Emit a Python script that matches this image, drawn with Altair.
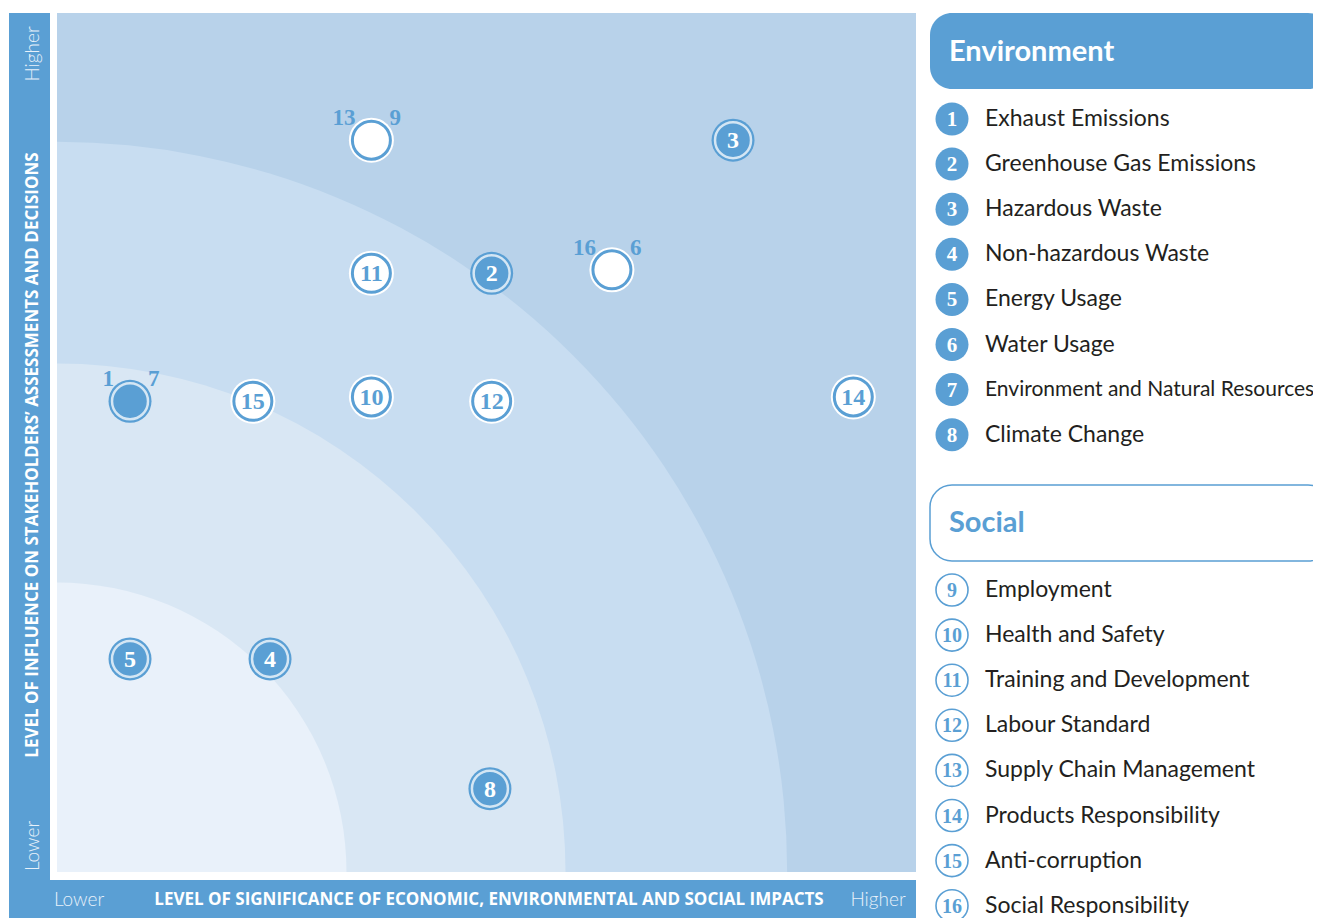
import math
import altair as alt
import pandas as pd

# ---------------- data ----------------
env_names = ["Exhaust Emissions", "Greenhouse Gas Emissions", "Hazardous Waste",
             "Non-hazardous Waste", "Energy Usage", "Water Usage",
             "Environment and Natural Resources", "Climate Change"]
soc_names = ["Employment", "Health and Safety", "Training and Development",
             "Labour Standard", "Supply Chain Management", "Products Responsibility",
             "Anti-corruption", "Social Responsibility"]
env_ids = ["1", "2", "3", "4", "5", "6", "7", "8"]
soc_ids = ["9", "10", "11", "12", "13", "14", "15", "16"]

# matrix positions on a 0-10 scale (significance = x, influence = y)
env_pt_label = ["3", "2", "", "5", "4", "8"]
env_pt_x = [7.87, 5.06, 0.85, 0.85, 2.48, 5.04]
env_pt_y = [8.52, 6.97, 5.48, 2.48, 2.48, 0.97]

soc_pt_label = ["", "11", "", "15", "10", "12", "14"]
soc_pt_x = [3.66, 3.66, 6.46, 2.28, 3.66, 5.06, 9.27]
soc_pt_y = [8.52, 6.97, 7.01, 5.48, 5.53, 5.48, 5.53]

# topics sharing one position: tag left / tag right
shared_left = ["13", "16", "1"]
shared_right = ["9", "6", "7"]
shared_x = [3.66, 6.46, 0.85]
shared_y = [8.52, 7.01, 5.48]

band_r = [8.50, 5.92, 3.37]

y_title = "LEVEL OF INFLUENCE ON STAKEHOLDERS\u2019 ASSESSMENTS AND DECISIONS"
x_title = "LEVEL OF SIGNIFICANCE OF ECONOMIC, ENVIRONMENTAL AND SOCIAL IMPACTS"

# ---------------- styling ----------------
BLUE = "#5a9fd4"
LIGHT = "#d4e6f4"
OUTER = "#b8d2ea"
BAND_COLORS = ["#c8ddf1", "#d9e7f4", "#e9f1fa"]
DARK = "#231f20"
SANS = "Lato"
SANS_B = "Open Sans"
SERIF = "Liberation Serif"

PX = 85.9  # pixels per unit


def X(px):
    return (px - 57) / PX


def Y(py):
    return (872 - py) / PX


W = 1313 - 9
H = 918 - 13
xs = alt.Scale(domain=[X(9), X(9 + W)], nice=False, zero=False)
ys = alt.Scale(domain=[Y(13 + H), Y(13)], nice=False, zero=False)
XE = alt.X("x:Q", scale=xs, axis=None)
YE = alt.Y("y:Q", scale=ys, axis=None)


def rect(x1, x2, y1, y2, **mk):
    df = pd.DataFrame({"x": [x1], "x2": [x2], "y": [y1], "y2": [y2]})
    return alt.Chart(df).mark_rect(**mk).encode(x=XE, x2="x2:Q", y=YE, y2="y2:Q")


def text(df, **mk):
    return alt.Chart(df).mark_text(**mk).encode(x=XE, y=YE, text="t:N")


layers = []

# plot background
layers.append(rect(0, 10, 0, 10, color=OUTER))
for r, c in zip(band_r, BAND_COLORS):
    df = pd.DataFrame({"x": [0.0], "y": [0.0], "r": [r]})
    layers.append(
        alt.Chart(df).mark_arc(theta=0, theta2=math.pi / 2, color=c).encode(
            x=XE, y=YE,
            radius=alt.Radius("r:Q", scale=alt.Scale(type="linear", domain=[0, 10],
                                                     range=[0, 10 * PX], zero=True)),
        )
    )

# axis bars
layers.append(rect(X(9), X(50), Y(918), Y(13), color=BLUE))
layers.append(rect(X(9), X(916), Y(918), Y(880), color=BLUE))

layers.append(text(pd.DataFrame({"x": [X(33)], "y": [Y(54)], "t": ["Higher"]}),
                   angle=270, font=SANS, fontSize=19, fontWeight=300, color="#e8f1fa"))
layers.append(text(pd.DataFrame({"x": [X(33)], "y": [Y(846)], "t": ["Lower"]}),
                   angle=270, font=SANS, fontSize=19, fontWeight=300, color="#e8f1fa"))
layers.append(text(pd.DataFrame({"x": [X(33)], "y": [Y(455)], "t": [y_title]}),
                   angle=270, font=SANS_B, fontSize=17, fontWeight="bold", color="white"))
layers.append(text(pd.DataFrame({"x": [X(79)], "y": [Y(900)], "t": ["Lower"]}),
                   font=SANS, fontSize=19, fontWeight=300, color="#e8f1fa"))
layers.append(text(pd.DataFrame({"x": [X(878)], "y": [Y(900)], "t": ["Higher"]}),
                   font=SANS, fontSize=19, fontWeight=300, color="#e8f1fa"))
layers.append(text(pd.DataFrame({"x": [X(489)], "y": [Y(900)], "t": [x_title]}),
                   font=SANS_B, fontSize=17, fontWeight="bold", color="white"))

# points: environment (filled)
env_df = pd.DataFrame({"x": env_pt_x, "y": env_pt_y, "t": env_pt_label})
layers.append(alt.Chart(env_df).mark_circle(size=43 ** 2, color=BLUE, opacity=1).encode(x=XE, y=YE))
layers.append(alt.Chart(env_df).mark_point(shape="circle", size=36 ** 2, filled=True, fill=BLUE,
                                           stroke=LIGHT, strokeWidth=2.5, opacity=1).encode(x=XE, y=YE))
layers.append(text(env_df, font=SERIF, fontSize=24, fontWeight="bold", color="white", dy=1))

# points: social (outlined)
soc_df = pd.DataFrame({"x": soc_pt_x, "y": soc_pt_y, "t": soc_pt_label})
layers.append(alt.Chart(soc_df).mark_circle(size=45 ** 2, color="white", opacity=1).encode(x=XE, y=YE))
layers.append(alt.Chart(soc_df).mark_point(shape="circle", size=38 ** 2, filled=True, fill="white",
                                           stroke=BLUE, strokeWidth=3, opacity=1).encode(x=XE, y=YE))
layers.append(text(soc_df, font=SERIF, fontSize=24, fontWeight="bold", color=BLUE, dy=1))

# shared-position tags
layers.append(text(pd.DataFrame({"x": shared_x, "y": shared_y, "t": shared_left}),
                   font=SERIF, fontSize=23, fontWeight="bold", color=BLUE, align="right",
                   dx=-16, dy=-22))
layers.append(text(pd.DataFrame({"x": shared_x, "y": shared_y, "t": shared_right}),
                   font=SERIF, fontSize=23, fontWeight="bold", color=BLUE, align="left",
                   dx=18, dy=-22))

# ---------------- legend ----------------
layers.append(rect(X(930), X(1330), Y(89), Y(13), color=BLUE, cornerRadius=22))
layers.append(rect(X(930), X(1330), Y(561), Y(485), fill="white", stroke=BLUE,
                   strokeWidth=1.5, cornerRadius=22))
layers.append(text(pd.DataFrame({"x": [X(949)], "y": [Y(52)], "t": ["Environment"]}),
                   font=SANS, fontSize=29, fontWeight="bold", color="white", align="left"))
layers.append(text(pd.DataFrame({"x": [X(949)], "y": [Y(523)], "t": ["Social"]}),
                   font=SANS, fontSize=29, fontWeight="bold", color=BLUE, align="left"))

STEP = 45.1
env_leg = pd.DataFrame({
    "x": [X(952)] * len(env_ids),
    "y": [Y(119 + STEP * i) for i in range(len(env_ids))],
    "t": env_ids,
})
env_lab = pd.DataFrame({"x": [X(985)] * len(env_names), "y": list(env_leg["y"]), "t": env_names})
soc_leg = pd.DataFrame({
    "x": [X(952)] * len(soc_ids),
    "y": [Y(590 + STEP * i) for i in range(len(soc_ids))],
    "t": soc_ids,
})
soc_lab = pd.DataFrame({"x": [X(985)] * len(soc_names), "y": list(soc_leg["y"]), "t": soc_names})

# long label shrunk slightly so it stays inside the page
env_lab_long = env_lab[env_lab["t"].str.len() > 30]
env_lab_short = env_lab[env_lab["t"].str.len() <= 30]

layers.append(alt.Chart(env_leg).mark_circle(size=33 ** 2, color=BLUE, opacity=1).encode(x=XE, y=YE))
layers.append(text(env_leg, font=SERIF, fontSize=21, fontWeight="bold", color="white", dy=1))
layers.append(alt.Chart(soc_leg).mark_point(shape="circle", size=32 ** 2, filled=True, fill="white",
                                            stroke=BLUE, strokeWidth=1.6, opacity=1).encode(x=XE, y=YE))
layers.append(text(soc_leg, font=SERIF, fontSize=20, fontWeight="bold", color=BLUE, dy=1))
layers.append(text(env_lab_short, font=SANS, fontSize=23, color=DARK, align="left"))
layers.append(text(env_lab_long, font=SANS, fontSize=21, color=DARK, align="left"))
layers.append(text(soc_lab, font=SANS, fontSize=23, color=DARK, align="left"))

chart = alt.layer(*layers).properties(
    width=W, height=H,
    padding={"left": 1, "top": 5, "right": 0, "bottom": 0},
    autosize=alt.AutoSizeParams(type="none"),
).configure_view(stroke=None)

chart.save("out.html", embed_options={"renderer": "svg", "actions": False})
